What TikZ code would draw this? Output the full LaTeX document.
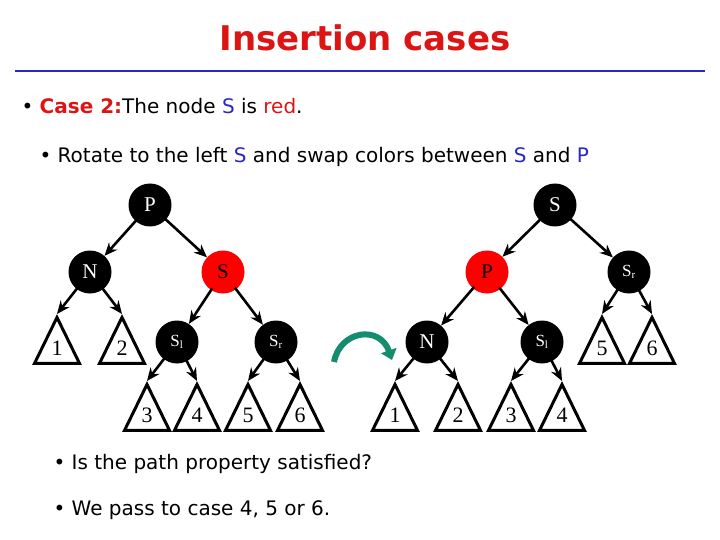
\documentclass[tikz,border=0pt]{standalone}
\usepackage{fontspec}
\setmainfont{Liberation Serif}
\newfontfamily\comic{DejaVu Sans}
\usetikzlibrary{arrows.meta,shapes.geometric}
\definecolor{tred}{RGB}{220,20,20}
\definecolor{tblue}{RGB}{40,40,200}
\definecolor{tgreen}{RGB}{20,140,110}
\begin{document}
\begin{tikzpicture}[x=1pt,y=-1pt,
  bn/.style={circle,fill=black,text=white,minimum size=43pt,inner sep=0pt,font=\fontsize{21}{21}\selectfont},
  rn/.style={bn,fill=red,text=black},
  tri/.style={draw,line width=3pt,line join=miter,isosceles triangle,shape border rotate=90,isosceles triangle apex angle=52,isosceles triangle stretches,minimum height=46pt,minimum width=45pt,inner sep=0pt,anchor=apex},
  lab/.style={font=\fontsize{22}{22}\selectfont},
  ed/.style={line width=2.6pt,-{Stealth[length=13pt,width=11pt]},shorten <=-2pt},
  txt/.style={anchor=west,font=\comic\fontsize{20}{24}\selectfont}]
\useasboundingbox (0,0) rectangle (720,540);
\node[font=\comic\bfseries\fontsize{34}{34}\selectfont,text=tred] (title) at (365,38) {Insertion cases};
\draw[tblue,line width=2pt] (15,71) -- (705,71);
\node[txt] (b1) at (18,106) {\textbullet\ {\color{tred}\bfseries Case 2:}The node {\color{tblue}S} is {\color{tred}red}.};
\node[txt] (b2) at (36,157) {\textbullet\ Rotate to the left {\color{tblue}S} and swap colors between {\color{tblue}S} and {\color{tblue}P}};
\node[txt] (b3) at (50,464) {\textbullet\ Is the path property satisfied?};
\node[txt] (b4) at (50,510) {\textbullet\ We pass to case 4, 5 or 6.};
% left tree
\node[bn] (P) at (150,205) {P};
\node[bn] (N) at (90,272) {N};
\node[rn] (S) at (223,272) {S};
\node[bn] (S1) at (177,342) {\fontsize{17}{17}\selectfont S\textsubscript{\fontsize{11}{11}\selectfont l}};
\node[bn] (Sr) at (276,342) {\fontsize{17}{17}\selectfont S\textsubscript{\fontsize{11}{11}\selectfont r}};
\node[tri] (t1) at (57,314) {}; \node[lab] at (57,348) {1};
\node[tri] (t2) at (122,314) {}; \node[lab] at (122,348) {2};
\node[tri] (t3) at (147,381) {}; \node[lab] at (147,415) {3};
\node[tri] (t4) at (197,381) {}; \node[lab] at (197,415) {4};
\node[tri] (t5) at (248,381) {}; \node[lab] at (248,415) {5};
\node[tri] (t6) at (300,381) {}; \node[lab] at (300,415) {6};
\draw[ed] (P) -- (N); \draw[ed] (P) -- (S);
\draw[ed] (N) -- (t1.apex); \draw[ed] (N) -- (t2.apex);
\draw[ed] (S) -- (S1); \draw[ed] (S) -- (Sr);
\draw[ed] (S1) -- (t3.apex); \draw[ed] (S1) -- (t4.apex);
\draw[ed] (Sr) -- (t5.apex); \draw[ed] (Sr) -- (t6.apex);
% arrow
\coordinate (a1) at (334,362); \coordinate (a2) at (392,360);
\draw[tgreen,line width=6pt,-{Triangle[length=10pt,width=16pt]}] (a1) .. controls (340,330) and (380,325) .. (a2);
% right tree
\node[bn] (RS) at (555,205) {S};
\node[rn] (RP) at (487,272) {P};
\node[bn] (RSr) at (629,272) {\fontsize{17}{17}\selectfont S\textsubscript{\fontsize{11}{11}\selectfont r}};
\node[bn] (RN) at (427,342) {N};
\node[bn] (RS1) at (542,342) {\fontsize{17}{17}\selectfont S\textsubscript{\fontsize{11}{11}\selectfont l}};
\node[tri] (r1) at (395,381) {}; \node[lab] at (395,415) {1};
\node[tri] (r2) at (458,381) {}; \node[lab] at (458,415) {2};
\node[tri] (r3) at (511,381) {}; \node[lab] at (511,415) {3};
\node[tri] (r4) at (562,381) {}; \node[lab] at (562,415) {4};
\node[tri] (r5) at (602,314) {}; \node[lab] at (602,348) {5};
\node[tri] (r6) at (652,314) {}; \node[lab] at (652,348) {6};
\draw[ed] (RS) -- (RP); \draw[ed] (RS) -- (RSr);
\draw[ed] (RP) -- (RN); \draw[ed] (RP) -- (RS1);
\draw[ed] (RN) -- (r1.apex); \draw[ed] (RN) -- (r2.apex);
\draw[ed] (RS1) -- (r3.apex); \draw[ed] (RS1) -- (r4.apex);
\draw[ed] (RSr) -- (r5.apex); \draw[ed] (RSr) -- (r6.apex);
\end{tikzpicture}
\end{document}
